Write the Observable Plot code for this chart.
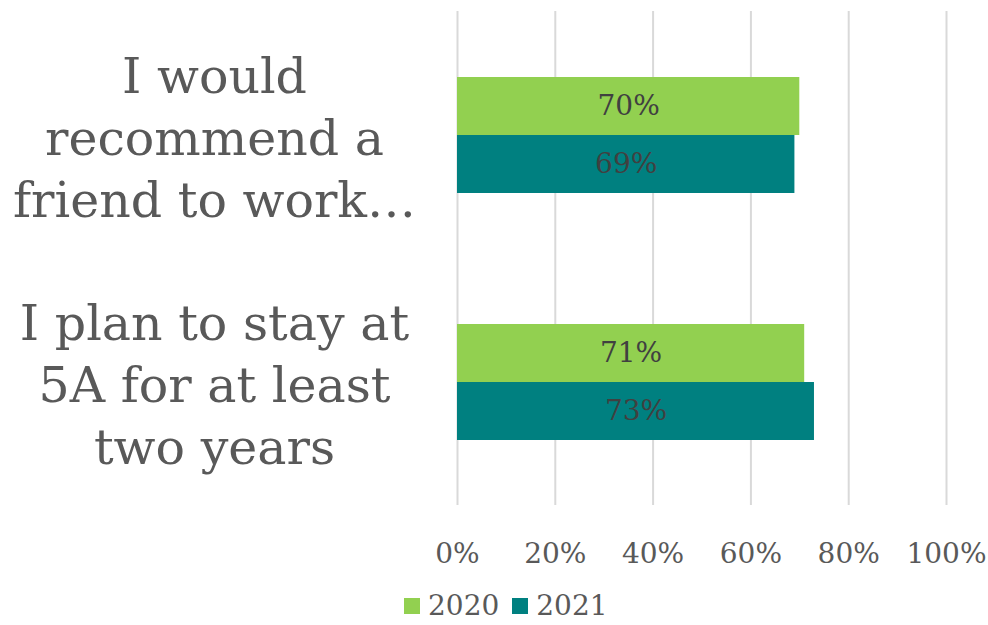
<!DOCTYPE html>
<html><head><meta charset="utf-8">
<script src="https://cdn.jsdelivr.net/npm/d3@7"></script>
<script src="https://cdn.jsdelivr.net/npm/@observablehq/plot@0.6"></script>
<style>
body{margin:0;background:#fff;font-family:"DejaVu Serif",serif;overflow:hidden;}
#legend{display:flex;align-items:center;margin-left:404px;height:39px;font-size:28px;line-height:33px;color:#595959;}
.sw{width:16px;height:16px;display:inline-block;margin-right:8px;}
.item{display:flex;align-items:center;margin-right:13px;}
</style></head><body><div id="chart"></div><div id="legend"></div>
<script>
const categories = ["I would recommend a friend to work…", "I plan to stay at 5A for at least two years"];
const categoryLabels = ["I would\nrecommend a\nfriend to work…", "I plan to stay at\n5A for at least\ntwo years"];
const years = ["2020", "2021"];
const values2020 = [0.70, 0.71];
const values2021 = [0.69, 0.73];
const xTicks = [0, 0.2, 0.4, 0.6, 0.8, 1.0];
const colors = ["#92D050", "#008080"];

const data = [];
categories.forEach((c, i) => {
  data.push({category: c, year: years[0], value: values2020[i]});
  data.push({category: c, year: years[1], value: values2021[i]});
});

const plot = Plot.plot({
  width: 988, height: 586,
  marginLeft: 457, marginRight: 42, marginTop: 10, marginBottom: 81,
  style: {fontFamily: "DejaVu Serif", background: "white"},
  x: {domain: [0, 1], ticks: xTicks, axis: null},
  y: {domain: years, paddingInner: 0, paddingOuter: 1.1, axis: null},
  fy: {domain: categories, padding: 0, axis: null},
  color: {domain: years, range: colors},
  marks: [
    Plot.gridX(xTicks, {stroke: "#d9d9d9", strokeOpacity: 1, strokeWidth: 2}),
    Plot.barX(data, {x: "value", y: "year", fy: "category", fill: "year"}),
    Plot.text(data, {x: d => d.value / 2, y: "year", fy: "category", text: d => Math.round(d.value * 100) + "%", fill: "#404040", fontSize: 28}),
    Plot.axisX(xTicks, {anchor: "bottom", tickSize: 0, tickPadding: 38, tickFormat: d => Math.round(d * 100) + "%", fontSize: 28, fill: "#595959", label: null}),
    Plot.axisFy({anchor: "left", tickSize: 0, tickPadding: 243, textAnchor: "middle", label: null,
      tickFormat: d => categoryLabels[categories.indexOf(d)], fontSize: 49, lineHeight: 1.27, fill: "#595959"})
  ]
});
document.getElementById("chart").appendChild(plot);

const legend = document.getElementById("legend");
years.forEach((y, i) => {
  const item = document.createElement("div");
  item.className = "item";
  const sw = document.createElement("span");
  sw.className = "sw";
  sw.style.background = colors[i];
  item.appendChild(sw);
  item.appendChild(document.createTextNode(y));
  legend.appendChild(item);
});
</script>
</body></html>
